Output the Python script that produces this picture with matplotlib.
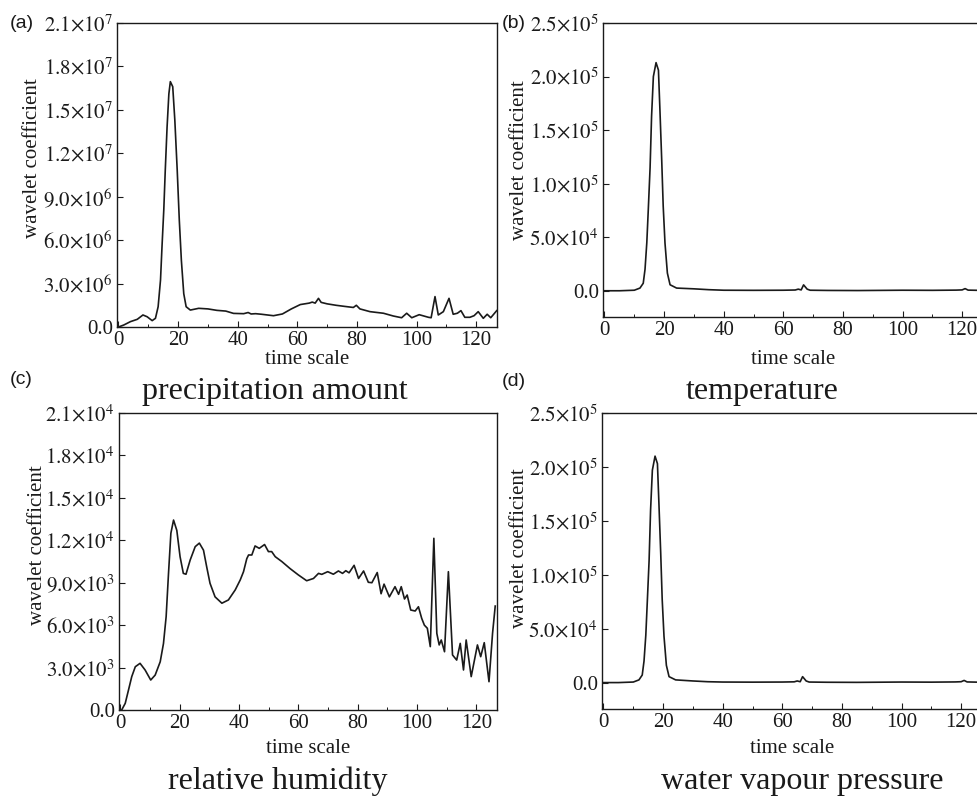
import matplotlib
matplotlib.use('Agg')
import matplotlib.pyplot as plt
from matplotlib.ticker import MultipleLocator

plt.rcParams.update({'font.family': 'Liberation Serif', 'mathtext.fontset': 'stix', 'font.size': 15})
INK = '#1a1a1a'
W, H = 977, 798

# (a) precipitation amount, values in 1e6
prec_x = [0, 1.8, 4.0, 6.3, 8.2, 9.6, 11.3, 12.4, 13.3, 14.1, 14.6, 15.2, 15.7, 16.3, 16.9, 17.4, 18.2, 18.9,
          19.7, 20.4, 21.1, 21.9, 22.7, 24.1, 26.9, 30, 33, 36, 38.6, 42, 43.5, 44.5, 46, 48, 52, 55, 58, 61,
          64, 65, 66, 67.1, 68, 70, 73, 76, 78.8, 79.8, 81, 84.4, 88.9, 92.2, 95, 96.7, 98.4, 100.9, 104, 104.9,
          106.2, 107.3, 109, 110.9, 112.3, 113.7, 114.9, 116.2, 117.9, 119.3, 120.7, 122.4, 123.7, 124.9, 126.9]
prec_y = [0, 0.14, 0.37, 0.53, 0.83, 0.71, 0.44, 0.6, 1.4, 3.25, 5.55, 8.1, 10.85, 13.8, 16.1, 16.95, 16.6, 14.3,
          10.85, 7.4, 4.6, 2.3, 1.4, 1.17, 1.29, 1.25, 1.15, 1.1, 0.94, 0.92, 1.0, 0.9, 0.92, 0.88, 0.78, 0.9,
          1.25, 1.55, 1.65, 1.72, 1.65, 1.98, 1.7, 1.6, 1.5, 1.42, 1.35, 1.5, 1.25, 1.06, 0.95, 0.76, 0.64, 0.95,
          0.64, 0.85, 0.67, 0.64, 2.1, 0.83, 1.06, 1.98, 0.88, 0.95, 1.13, 0.67, 0.67, 0.78, 1.06, 0.6, 0.88,
          0.64, 1.13]

# (b) temperature, values in 1e4
temp_x = [0, 5, 10, 11.9, 13.0, 13.6, 14.2, 14.7, 15.3, 15.8, 16.4, 17.3, 18.1, 18.6, 19.2, 19.7, 20.3, 21.1,
          22.0, 24.2, 30, 35, 40, 50, 60, 64, 65, 66, 66.8, 68, 69, 75, 85, 100, 110, 118, 120, 121, 122, 127]
temp_y = [0, 0, 0.05, 0.25, 0.7, 2.0, 4.5, 7.6, 11.5, 16.3, 20.0, 21.3, 20.6, 16.9, 12.2, 7.9, 4.45, 1.65,
          0.56, 0.25, 0.18, 0.1, 0.05, 0.04, 0.05, 0.07, 0.15, 0.08, 0.55, 0.15, 0.05, 0.03, 0.02, 0.05, 0.04,
          0.06, 0.08, 0.2, 0.06, 0.03]

# (c) relative humidity, values in 1e3
rh_x = [0, 0.4, 1.6, 2.7, 3.8, 5.0, 6.6, 8.3, 10.2, 11.7, 13.4, 14.5, 15.4, 16.2, 17.0, 17.9, 19.0, 20.1, 21.2,
        22.1, 23.5, 25.2, 26.6, 28.0, 29.1, 30.2, 31.9, 34.2, 36.4, 38.7, 40.4, 41.5, 42.6, 43.2, 44.3, 45.4,
        46.8, 48.6, 49.9, 51.0, 52.2, 54.4, 57.2, 60.0, 62.8, 65.1, 66.8, 67.9, 69.9, 71.8, 73.5, 74.9, 76.0,
        77.1, 78.8, 80.3, 82.0, 83.6, 84.8, 86.6, 87.9, 88.9, 90.7, 92.6, 93.8, 94.7, 95.8, 96.7, 97.9, 99.4,
        100.5, 101.6, 102.5, 103.5, 104.5, 105.7, 106.7, 107.5, 108.2, 109.3, 110.6, 112.0, 113.4, 114.6, 115.7,
        116.6, 118.3, 120.4, 121.5, 122.7, 124.3, 125.5, 126.4]
rh_y = [0, 0, 0.47, 1.41, 2.36, 3.06, 3.3, 2.83, 2.12, 2.47, 3.41, 4.7, 6.6, 9.66, 12.5, 13.43, 12.7, 10.84, 9.66,
        9.6, 10.6, 11.55, 11.8, 11.3, 10.1, 8.96, 8.0, 7.55, 7.78, 8.49, 9.2, 9.78, 10.7, 10.96, 10.96, 11.6,
        11.43, 11.7, 11.2, 11.2, 10.84, 10.5, 10.0, 9.55, 9.14, 9.3, 9.66, 9.59, 9.78, 9.6, 9.83, 9.66, 9.85,
        9.7, 10.23, 9.3, 9.83, 9.03, 9.0, 9.72, 8.22, 8.9, 8.0, 8.72, 8.18, 8.72, 7.85, 8.13, 7.07, 7.0, 7.3,
        6.48, 6.0, 5.78, 4.48, 12.14, 5.42, 4.6, 4.95, 4.12, 9.78, 3.89, 3.53, 4.71, 2.83, 4.95, 2.36, 4.6,
        3.77, 4.76, 2.0, 5.42, 7.35]

# (d) water vapour pressure, values in 1e4
wvp_x = [0, 5, 10, 11.9, 13.0, 13.6, 14.2, 14.7, 15.3, 15.8, 16.4, 17.3, 18.1, 18.6, 19.2, 19.7, 20.3, 21.1,
         22.0, 24.2, 30, 35, 40, 50, 60, 64, 65, 66, 66.8, 68, 69, 75, 85, 100, 110, 118, 120, 121, 122, 127]
wvp_y = [0, 0, 0.05, 0.25, 0.7, 2.0, 4.4, 7.5, 11.3, 16.0, 19.7, 21.0, 20.3, 16.6, 12.0, 7.7, 4.3, 1.6,
         0.55, 0.25, 0.15, 0.08, 0.05, 0.04, 0.05, 0.07, 0.15, 0.08, 0.55, 0.15, 0.05, 0.03, 0.02, 0.05, 0.04,
         0.06, 0.08, 0.2, 0.06, 0.03]

ticks_e7 = [0, 3, 6, 9, 12, 15, 18, 21]
labels_e7 = ['0.0', r'$3.0{\times}10^6$', r'$6.0{\times}10^6$', r'$9.0{\times}10^6$', r'$1.2{\times}10^7$',
             r'$1.5{\times}10^7$', r'$1.8{\times}10^7$', r'$2.1{\times}10^7$']
ticks_e5 = [0, 5, 10, 15, 20, 25]
labels_e5 = ['0.0', r'$5.0{\times}10^4$', r'$1.0{\times}10^5$', r'$1.5{\times}10^5$', r'$2.0{\times}10^5$',
             r'$2.5{\times}10^5$']
ticks_e4 = [0, 3, 6, 9, 12, 15, 18, 21]
labels_e4 = ['0.0', r'$3.0{\times}10^3$', r'$6.0{\times}10^3$', r'$9.0{\times}10^3$', r'$1.2{\times}10^4$',
             r'$1.5{\times}10^4$', r'$1.8{\times}10^4$', r'$2.1{\times}10^4$']
xticks = [0, 20, 40, 60, 80, 100, 120]


def box(l, t, r, b):
    return [l / W, 1 - b / H, (r - l) / W, (b - t) / H]


fig = plt.figure(figsize=(9.77, 7.98), dpi=100)
fig.patch.set_facecolor('white')

# axes box (px), series, ylim, ticks, labels, ylabel anchor (px), xlabel pad
panels = [
    (box(117, 23, 497, 327), prec_x, prec_y, (0, 21), ticks_e7, labels_e7, (42, 158), 0),
    (box(603, 23, 983, 317), temp_x, temp_y, (-2.45, 25), ticks_e5, labels_e5, (529, 160), 7),
    (box(119, 413, 497, 710), rh_x, rh_y, (0, 21), ticks_e4, labels_e4, (47, 545), 4),
    (box(602, 413, 982, 709), wvp_x, wvp_y, (-2.45, 25), ticks_e5, labels_e5, (529, 548), 5),
]
for pos, xs, ys, yl, yt, ylab, (lx, ly), xpad in panels:
    ax = fig.add_axes(pos)
    ax.plot(xs, ys, color=INK, lw=1.2)
    ax.set_xlim(-0.5, 127)
    ax.set_ylim(*yl)
    ax.set_xticks(xticks)
    ax.xaxis.set_minor_locator(MultipleLocator(10))
    ax.set_yticks(yt)
    ax.set_yticklabels(ylab)
    ax.tick_params(direction='in', length=4, width=0.8, labelsize=15, pad=3, colors=INK)
    ax.tick_params(which='minor', direction='in', length=2.5, width=0.7, colors=INK)
    for s in ax.spines.values():
        s.set_linewidth(1.0)
        s.set_color(INK)
    ax.set_xlabel('time scale', fontsize=15, labelpad=xpad, color=INK)
    ax.set_ylabel('wavelet coefficient', fontsize=15, color=INK)
    ax.yaxis.set_label_coords(lx / W, 1 - ly / H, transform=fig.transFigure)

# panel letters
for txt, x, y in [('(a)', 10, 23), ('(b)', 502, 23), ('(c)', 10, 380), ('(d)', 502, 381)]:
    fig.text(x / W, 1 - y / H, txt, family='Liberation Sans', fontsize=14, va='center', ha='left', color=INK)

# titles
for txt, x, y in [('precipitation amount', 275, 391), ('temperature', 762, 391),
                  ('relative humidity', 278, 781), ('water vapour pressure', 802, 781)]:
    fig.text(x / W, 1 - y / H, txt, fontsize=23, ha='center', va='center', color=INK)

plt.savefig('out.png', dpi=100, facecolor='white')
plt.close()
